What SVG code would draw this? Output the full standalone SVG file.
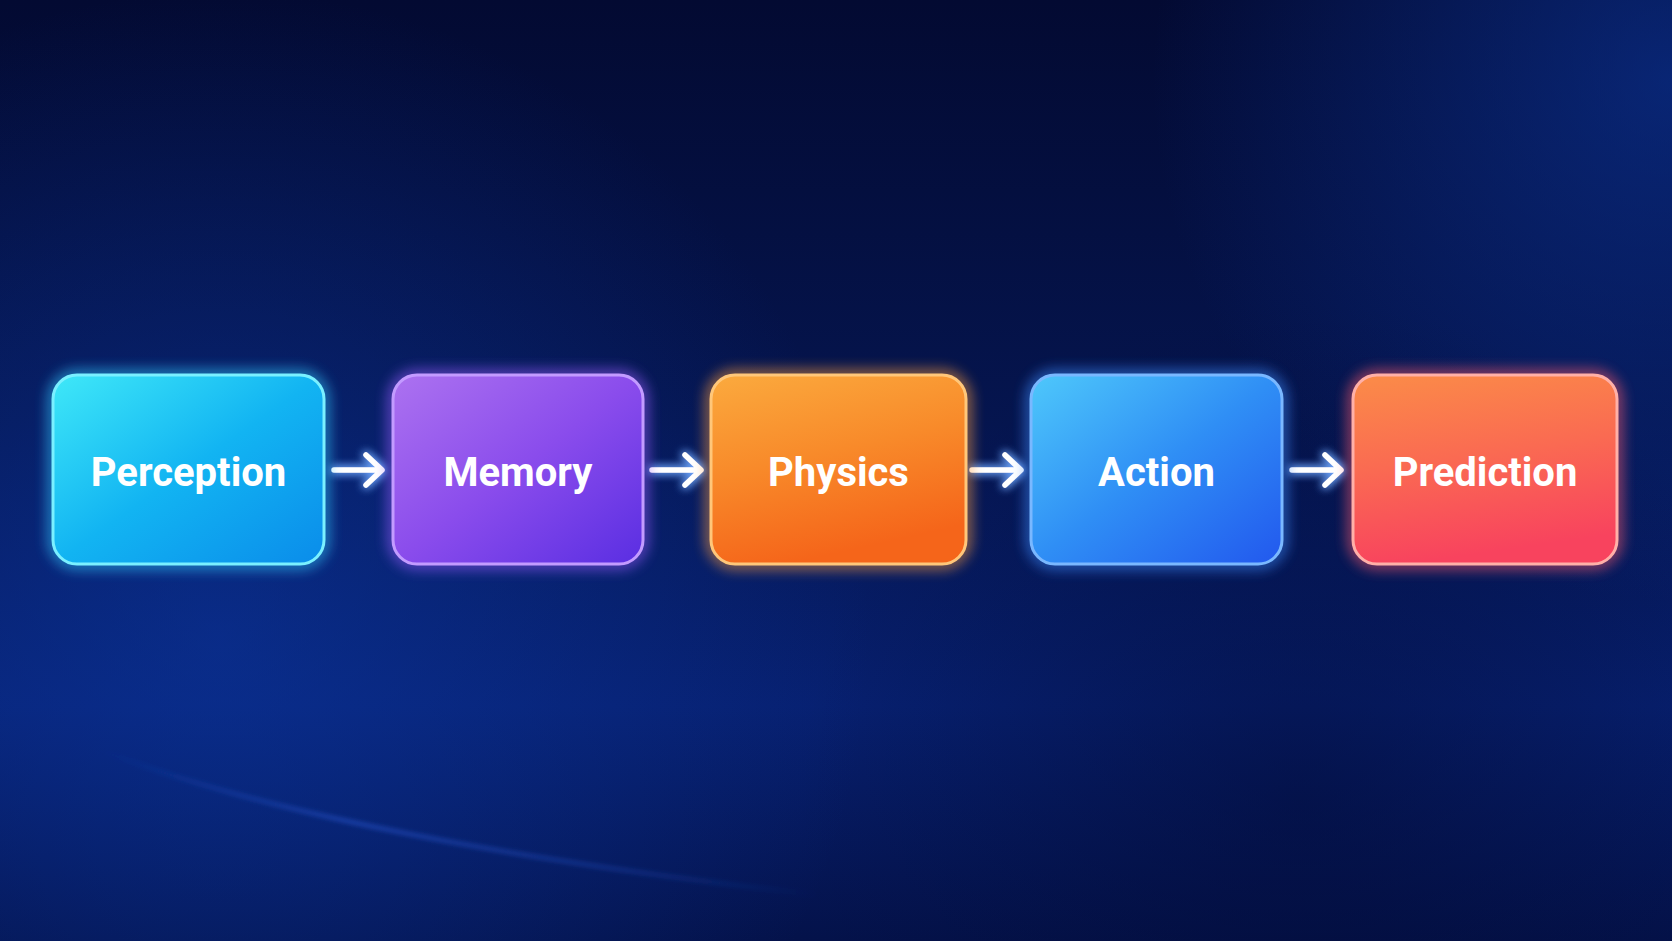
<svg xmlns="http://www.w3.org/2000/svg" width="1672" height="941" viewBox="0 0 1672 941">
<defs>
<linearGradient id="bg" x1="0" y1="0" x2="0" y2="1">
<stop offset="0" stop-color="#030a32"/>
<stop offset="0.45" stop-color="#05154f"/>
<stop offset="0.75" stop-color="#072070"/>
<stop offset="1" stop-color="#04124a"/>
</linearGradient>
<radialGradient id="glowL" cx="220" cy="640" r="650" gradientUnits="userSpaceOnUse">
<stop offset="0" stop-color="#0c3aa8" stop-opacity="0.5"/>
<stop offset="1" stop-color="#0c3aa8" stop-opacity="0"/>
</radialGradient>
<radialGradient id="glowTR" cx="1672" cy="80" r="520" gradientUnits="userSpaceOnUse">
<stop offset="0" stop-color="#0d3aa6" stop-opacity="0.55"/>
<stop offset="1" stop-color="#0d3aa6" stop-opacity="0"/>
</radialGradient>
<radialGradient id="darkBR" cx="1300" cy="800" r="500" gradientUnits="userSpaceOnUse">
<stop offset="0" stop-color="#020a35" stop-opacity="0.5"/>
<stop offset="1" stop-color="#020a35" stop-opacity="0"/>
</radialGradient>
<linearGradient id="arcG" x1="100" y1="0" x2="820" y2="0" gradientUnits="userSpaceOnUse">
<stop offset="0" stop-color="#2f62e6" stop-opacity="0"/>
<stop offset="0.35" stop-color="#2f62e6" stop-opacity="0.7"/>
<stop offset="0.7" stop-color="#2f62e6" stop-opacity="0.4"/>
<stop offset="1" stop-color="#2f62e6" stop-opacity="0"/>
</linearGradient>
<linearGradient id="gPer" x1="0" y1="0" x2="1" y2="1">
<stop offset="0" stop-color="#3fe8f8"/>
<stop offset="0.5" stop-color="#12b4f2"/>
<stop offset="1" stop-color="#0a8cea"/>
</linearGradient>
<linearGradient id="gMem" x1="0" y1="0" x2="1" y2="1">
<stop offset="0" stop-color="#ac72f0"/>
<stop offset="0.5" stop-color="#8a4cec"/>
<stop offset="1" stop-color="#5a2ee2"/>
</linearGradient>
<linearGradient id="gPhy" x1="0" y1="0" x2="0.3" y2="1">
<stop offset="0" stop-color="#fbaa3e"/>
<stop offset="0.5" stop-color="#f88a2a"/>
<stop offset="1" stop-color="#f5651a"/>
</linearGradient>
<linearGradient id="gAct" x1="0" y1="0" x2="1" y2="1">
<stop offset="0" stop-color="#4ec8fb"/>
<stop offset="0.5" stop-color="#2f8ef5"/>
<stop offset="1" stop-color="#2258ee"/>
</linearGradient>
<linearGradient id="gPre" x1="0" y1="0" x2="0.2" y2="1">
<stop offset="0" stop-color="#fb8c48"/>
<stop offset="0.5" stop-color="#fa6a52"/>
<stop offset="1" stop-color="#f8435e"/>
</linearGradient>
<filter id="glow" x="-20%" y="-30%" width="140%" height="160%">
<feGaussianBlur stdDeviation="7"/>
</filter>
<filter id="aglow" x="-50%" y="-100%" width="200%" height="300%">
<feGaussianBlur in="SourceAlpha" stdDeviation="5" result="b"/>
<feFlood flood-color="#6fa8ff" flood-opacity="1"/>
<feComposite in2="b" operator="in" result="c"/>
<feMerge><feMergeNode in="c"/><feMergeNode in="c"/><feMergeNode in="SourceGraphic"/></feMerge>
</filter>
<filter id="soft" x="-20%" y="-50%" width="140%" height="200%">
<feGaussianBlur stdDeviation="2.5"/>
</filter>
</defs>
<style>
.box{stroke-width:3}
.halo{fill:none;stroke-width:8;opacity:0.85}
.lbl{font-family:Roboto,"Noto Sans","Liberation Sans",sans-serif;font-weight:700;font-size:40px;fill:#ffffff;text-anchor:middle}
.arr{fill:none;stroke:#ffffff;stroke-width:5.5;stroke-linecap:round;stroke-linejoin:round}
</style>
<rect x="0" y="0" width="1672" height="941" fill="url(#bg)"/>
<rect x="0" y="0" width="1672" height="941" fill="url(#glowL)"/>
<rect x="0" y="0" width="1672" height="941" fill="url(#glowTR)"/>
<rect x="0" y="0" width="1672" height="941" fill="url(#darkBR)"/>
<path d="M100 750 Q 330 840 820 895" fill="none" stroke="url(#arcG)" stroke-width="3" filter="url(#soft)"/>

<g id="connectors">
<g filter="url(#aglow)">
<path class="arr" d="M334 470 H381 M366 455 L382 470 L366 485"/>
<path class="arr" d="M652 470 H700 M685 455 L701 470 L685 485"/>
<path class="arr" d="M972 470 H1020 M1005 455 L1021 470 L1005 485"/>
<path class="arr" d="M1292 470 H1340 M1325 455 L1341 470 L1325 485"/>
</g>
</g>

<g id="perception">
<rect class="halo" x="53" y="375" width="271" height="189" rx="24" stroke="#31c8ff" filter="url(#glow)"/>
<rect class="box" x="53" y="375" width="271" height="189" rx="24" fill="url(#gPer)" stroke="#7af0ff"/>
<text class="lbl" x="188.5" y="486">Perception</text>
</g>
<g id="memory">
<rect class="halo" x="393" y="375" width="250" height="189" rx="24" stroke="#9a5cff" filter="url(#glow)"/>
<rect class="box" x="393" y="375" width="250" height="189" rx="24" fill="url(#gMem)" stroke="#c39bff"/>
<text class="lbl" x="518" y="486">Memory</text>
</g>
<g id="physics">
<rect class="halo" x="711" y="375" width="255" height="189" rx="24" stroke="#ff9c3a" filter="url(#glow)"/>
<rect class="box" x="711" y="375" width="255" height="189" rx="24" fill="url(#gPhy)" stroke="#ffc77a"/>
<text class="lbl" x="838.5" y="486">Physics</text>
</g>
<g id="action">
<rect class="halo" x="1031" y="375" width="251" height="189" rx="24" stroke="#3c8cff" filter="url(#glow)"/>
<rect class="box" x="1031" y="375" width="251" height="189" rx="24" fill="url(#gAct)" stroke="#7ab8ff"/>
<text class="lbl" x="1156.5" y="486">Action</text>
</g>
<g id="prediction">
<rect class="halo" x="1353" y="375" width="264" height="189" rx="24" stroke="#ff5a6a" filter="url(#glow)"/>
<rect class="box" x="1353" y="375" width="264" height="189" rx="24" fill="url(#gPre)" stroke="#ffb0a8"/>
<text class="lbl" x="1485" y="486">Prediction</text>
</g>
</svg>
